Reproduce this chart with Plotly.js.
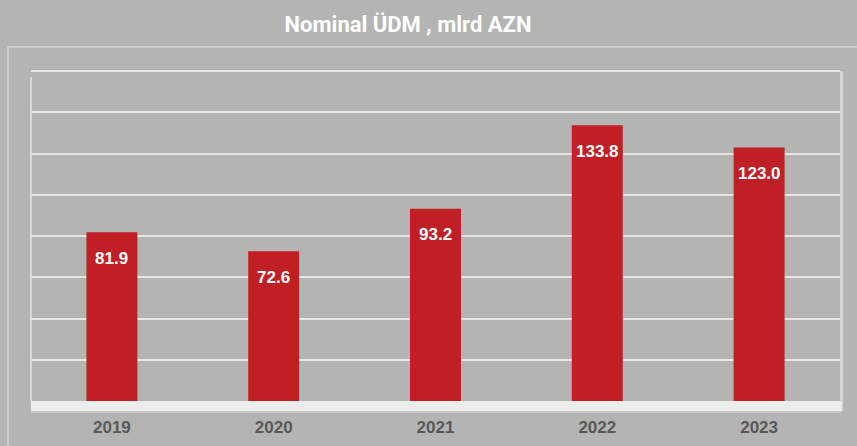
<!DOCTYPE html>
<html>
<head>
<meta charset="utf-8">
<script src="https://cdn.plot.ly/plotly-3.0.1.min.js"></script>
<style>
  html, body { margin: 0; padding: 0; background: #b4b4b2; }
  #chart { width: 857px; height: 446px; }
</style>
</head>
<body>
<div id="chart"></div>
<script>
document.addEventListener('DOMContentLoaded', () => {
    const years = ['2019', '2020', '2021', '2022', '2023'];
    const gdpValues = [81.9, 72.6, 93.2, 133.8, 123.0];
    const valueLabels = ['81.9', '72.6', '93.2', '133.8', '123.0'];

    const BG = '#b4b4b2';
    const BAR_RED = '#c01f26';
    const LINE = '#e6e6e4';

    const xPos = years.map((yr, i) => i);

    const barTrace = {
        type: 'bar',
        x: xPos,
        y: gdpValues,
        width: 0.315,
        marker: { color: BAR_RED, line: { width: 0 } },
        hoverinfo: 'y'
    };

    // value labels sit a bit below the top of each bar
    const labelNotes = xPos.map((xp, i) => ({
        x: xp,
        y: gdpValues[i],
        xref: 'x',
        yref: 'y',
        text: valueLabels[i],
        showarrow: false,
        yanchor: 'middle',
        yshift: -26,
        font: { family: 'Liberation Sans, Arial, sans-serif', size: 17, color: '#ffffff', weight: 'bold' }
    }));

    // plot box: 334px tall for 0..162 -> 160 lands at y=71
    const shapes = [
        // outer frame
        { type: 'rect', xref: 'paper', yref: 'paper', x0: -0.0284, x1: 1.06, y0: -0.3, y1: 1.0599,
          line: { color: '#d2d2d0', width: 1.5 }, fillcolor: 'rgba(0,0,0,0)', layer: 'below' },
        // left and right edges of the plot box
        { type: 'line', xref: 'paper', yref: 'paper', x0: 0, x1: 0, y0: 0, y1: 0.97,
          line: { color: '#d8d8d6', width: 2 }, layer: 'below' },
        { type: 'line', xref: 'paper', yref: 'paper', x0: 1.002, x1: 1.002, y0: -0.03, y1: 0.988,
          line: { color: '#d8d8d6', width: 3 }, layer: 'below' },
        // floor band
        { type: 'rect', xref: 'paper', yref: 'paper', x0: 0, x1: 1.002, y0: -0.036, y1: -0.012,
          line: { width: 0 }, fillcolor: '#c9cac8', layer: 'above' },
        { type: 'rect', xref: 'paper', yref: 'paper', x0: 0, x1: 1.002, y0: -0.03, y1: 0,
          line: { width: 0 }, fillcolor: '#eceeec', layer: 'above' }
    ];

    const layout = {
        width: 857,
        height: 446,
        paper_bgcolor: BG,
        plot_bgcolor: BG,
        margin: { l: 31, r: 17, t: 67, b: 45 },
        showlegend: false,
        title: {
            text: 'Nominal ÜDM , mlrd AZN',
            font: { family: 'Roboto, Arial, sans-serif', size: 22, color: '#ffffff', weight: 'bold' },
            x: 408 / 857,
            xanchor: 'center',
            xref: 'container',
            y: 1 - 24 / 446,
            yanchor: 'middle',
            yref: 'container'
        },
        xaxis: {
            range: [-0.5, 4.5],
            tickvals: xPos,
            ticktext: years,
            showgrid: false,
            zeroline: false,
            showline: false,
            ticks: '',
            ticklabelstandoff: 14,
            tickfont: { family: 'Liberation Sans, Arial, sans-serif', size: 17, color: '#585858', weight: 'bold' }
        },
        yaxis: {
            range: [0, 162],
            tickvals: [20, 40, 60, 80, 100, 120, 140, 160],
            showticklabels: false,
            showgrid: true,
            gridcolor: LINE,
            gridwidth: 2,
            zeroline: false,
            showline: false,
            ticks: ''
        },
        annotations: labelNotes,
        shapes: shapes
    };

    Plotly.newPlot('chart', [barTrace], layout, { displayModeBar: false, staticPlot: true });
});
</script>
</body>
</html>
